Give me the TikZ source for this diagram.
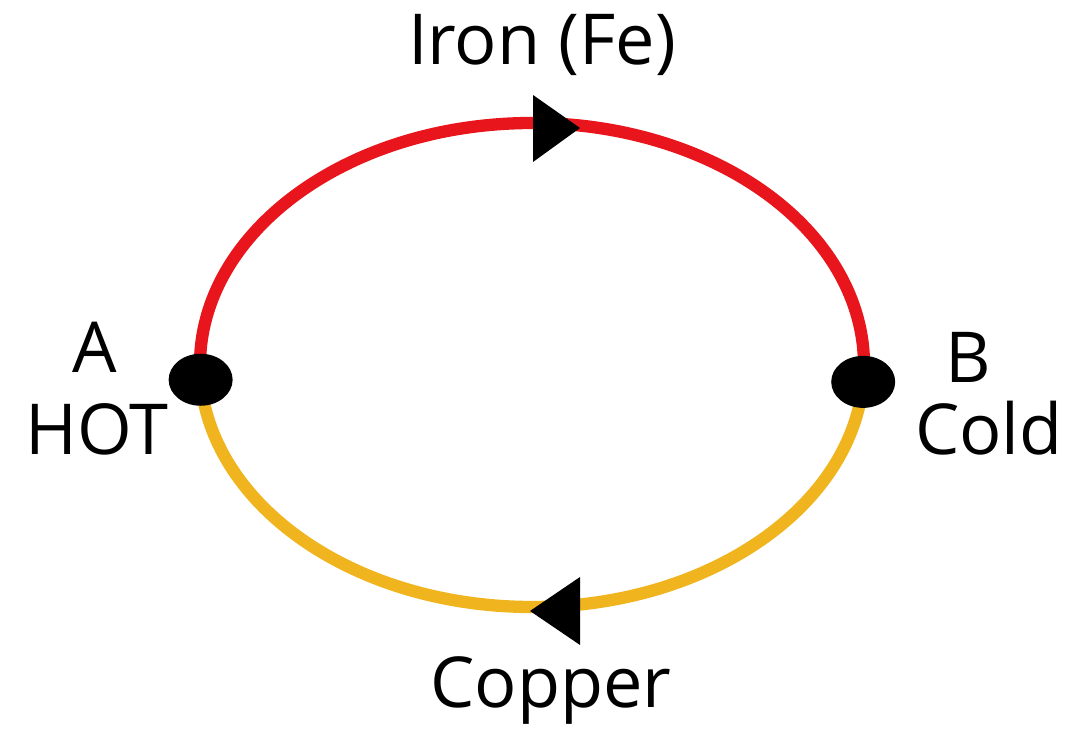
\documentclass[tikz,border=0pt]{standalone}
\usepackage{fontspec}
\setmainfont{Open Sans}
\usepackage{tikz}
\usetikzlibrary{positioning, calc, shapes.geometric}
\definecolor{ironRed}{HTML}{E8151D}
\definecolor{copperYellow}{HTML}{F0B41E}

\begin{document}
\begin{tikzpicture}[x=0.02cm, y=0.02cm,
    wire/.style={line width=7pt},
    junction/.style={ellipse, fill=black, inner sep=0pt, minimum width=1.28cm, minimum height=1.04cm},
    labeltext/.style={font=\fontsize{40}{46}\selectfont, anchor=base, inner sep=0pt}]
    \useasboundingbox (0,0) rectangle (1074,732);

    \coordinate (O) at (532,367);
    \coordinate (pA) at ($(O)+(183.5:332 and 242)$);
    \coordinate (pB) at ($(O)+(-4:332 and 242)$);

    % Iron on top, copper below
    \draw[wire, ironRed] (pA) arc[start angle=183.5, end angle=-4, x radius=332, y radius=242];
    \draw[wire, copperYellow] (pB) arc[start angle=-4, end angle=-176.5, x radius=332, y radius=242];

    % current direction
    \fill (580,604) -- (533,637) -- (533,570) -- cycle;
    \fill (530,121) -- (580,155) -- (580,87) -- cycle;

    % junctions
    \node[junction] (A) at (pA) {};
    \node[junction] (B) at (pB) {};

    \node[labeltext] (iron) at (542,667) {Iron (Fe)};
    \node[labeltext] (copper) at (551,24) {Copper};
    \node[labeltext] (nameA) at (95,359) {A};
    \node[labeltext] (hot) at (97,277) {HOT};
    \node[labeltext] (nameB) at (968,349) {B};
    \node[labeltext] (cold) at (989,277) {Cold};
\end{tikzpicture}
\end{document}
